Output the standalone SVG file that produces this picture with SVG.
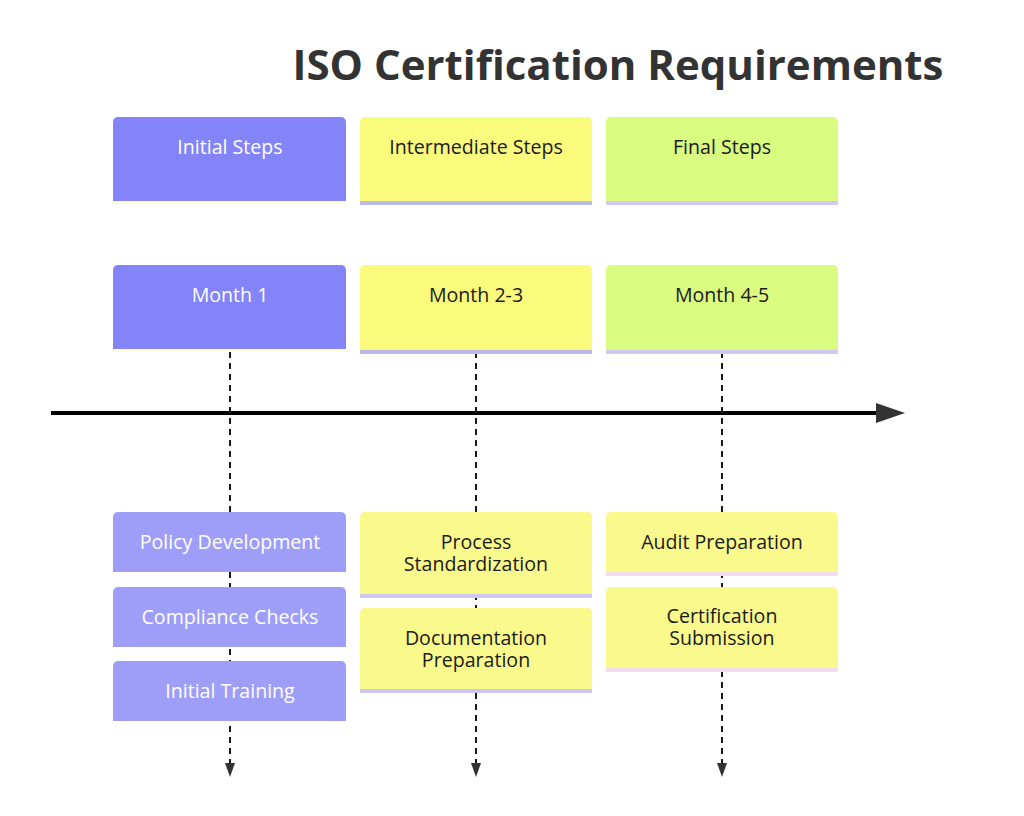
<svg xmlns="http://www.w3.org/2000/svg" width="1024" height="816" viewBox="0 0 1024 816">
<defs>
<style>
.t{font-family:"Open Sans","Noto Sans","Liberation Sans",sans-serif;font-size:19.6px;text-anchor:middle}
.w{fill:#ffffff}
.d{fill:#1a1a1a}
.dash{stroke:#1a1a1a;stroke-width:2;stroke-dasharray:6 5;fill:none}
.blue{fill:#8484f9}
.lblue{fill:#9e9ef8}
.yel{fill:#fafa7c}
.lyel{fill:#fafa8c}
.grn{fill:#d9fb80}
</style>
</defs>
<rect width="1024" height="816" fill="#ffffff"/>
<text x="618" y="80" style="font-family:'Open Sans','Noto Sans','Liberation Sans',sans-serif;font-size:42px;font-weight:bold;text-anchor:middle" fill="#333333">ISO Certification Requirements</text>

<g id="connectors">
<line x1="51" y1="413" x2="880" y2="413" stroke="#000000" stroke-width="4"/>
<path d="M876,403 L905,413 L876,423 Z" fill="#333333"/>
<line class="dash" x1="230" y1="352" x2="230" y2="765"/>
<path d="M225,763 L235,763 L230,777 Z" fill="#333333"/>
<line class="dash" x1="476" y1="352" x2="476" y2="765"/>
<path d="M471,763 L481,763 L476,777 Z" fill="#333333"/>
<line class="dash" x1="722" y1="352" x2="722" y2="765"/>
<path d="M717,763 L727,763 L722,777 Z" fill="#333333"/>
</g>

<g id="initial-steps">
<path class="blue" d="M113,122 a5,5 0 0 1 5,-5 H341 a5,5 0 0 1 5,5 V203 H113 Z"/>
<rect x="113" y="201" width="233" height="3" fill="#fdfdd6"/>
<text class="t w" x="230" y="154">Initial Steps</text>
</g>
<g id="intermediate-steps">
<path class="yel" d="M360,122 a5,5 0 0 1 5,-5 H587 a5,5 0 0 1 5,5 V203 H360 Z"/>
<rect x="360" y="201" width="232" height="4" fill="#b9b9ec"/>
<text class="t d" x="476" y="154">Intermediate Steps</text>
</g>
<g id="final-steps">
<path class="grn" d="M606,122 a5,5 0 0 1 5,-5 H833 a5,5 0 0 1 5,5 V203 H606 Z"/>
<rect x="606" y="201" width="232" height="4" fill="#d2c6f2"/>
<text class="t d" x="722" y="154">Final Steps</text>
</g>

<g id="month-1">
<path class="blue" d="M113,270 a5,5 0 0 1 5,-5 H341 a5,5 0 0 1 5,5 V351 H113 Z"/>
<rect x="113" y="349" width="233" height="3" fill="#fdfdd6"/>
<text class="t w" x="230" y="302">Month 1</text>
</g>
<g id="month-2-3">
<path class="yel" d="M360,270 a5,5 0 0 1 5,-5 H587 a5,5 0 0 1 5,5 V351 H360 Z"/>
<rect x="360" y="350" width="232" height="4" fill="#b9b9ec"/>
<text class="t d" x="476" y="302">Month 2-3</text>
</g>
<g id="month-4-5">
<path class="grn" d="M606,270 a5,5 0 0 1 5,-5 H833 a5,5 0 0 1 5,5 V351 H606 Z"/>
<rect x="606" y="350" width="232" height="4" fill="#d2c6f2"/>
<text class="t d" x="722" y="302">Month 4-5</text>
</g>

<g id="policy-development">
<path class="lblue" d="M113,517 a5,5 0 0 1 5,-5 H341 a5,5 0 0 1 5,5 V572 H113 Z"/>
<text class="t w" x="230" y="549">Policy Development</text>
</g>
<g id="compliance-checks">
<path class="lblue" d="M113,592 a5,5 0 0 1 5,-5 H341 a5,5 0 0 1 5,5 V647 H113 Z"/>
<text class="t w" x="230" y="624">Compliance Checks</text>
</g>
<g id="initial-training">
<path class="lblue" d="M113,666 a5,5 0 0 1 5,-5 H341 a5,5 0 0 1 5,5 V721 H113 Z"/>
<text class="t w" x="230" y="698">Initial Training</text>
</g>

<g id="process-standardization">
<path class="lyel" d="M360,517 a5,5 0 0 1 5,-5 H587 a5,5 0 0 1 5,5 V595 H360 Z"/>
<rect x="360" y="594" width="232" height="4" fill="#c9c9ee"/>
<text class="t d" x="476" y="549">Process</text>
<text class="t d" x="476" y="571">Standardization</text>
</g>
<g id="documentation-preparation">
<path class="lyel" d="M360,613 a5,5 0 0 1 5,-5 H587 a5,5 0 0 1 5,5 V690 H360 Z"/>
<rect x="360" y="689" width="232" height="4" fill="#c9c9ee"/>
<text class="t d" x="476" y="645">Documentation</text>
<text class="t d" x="476" y="667">Preparation</text>
</g>

<g id="audit-preparation">
<path class="lyel" d="M606,517 a5,5 0 0 1 5,-5 H833 a5,5 0 0 1 5,5 V573 H606 Z"/>
<rect x="606" y="572" width="232" height="4" fill="#f4dcef"/>
<text class="t d" x="722" y="549">Audit Preparation</text>
</g>
<g id="certification-submission">
<path class="lyel" d="M606,592 a5,5 0 0 1 5,-5 H833 a5,5 0 0 1 5,5 V669 H606 Z"/>
<rect x="606" y="668" width="232" height="4" fill="#f4dcef"/>
<text class="t d" x="722" y="623">Certification</text>
<text class="t d" x="722" y="645">Submission</text>
</g>
</svg>
